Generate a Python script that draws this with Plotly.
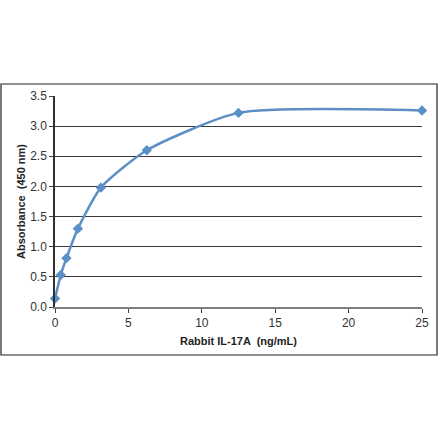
import plotly.graph_objects as go

# Rabbit IL-17A standard curve
conc = [0, 0.39, 0.78, 1.56, 3.125, 6.25, 12.5, 25]
absorbance = [0.14, 0.53, 0.81, 1.30, 1.98, 2.60, 3.22, 3.26]

x_ticks = [0, 5, 10, 15, 20, 25]
y_ticks = [0.0, 0.5, 1.0, 1.5, 2.0, 2.5, 3.0, 3.5]

W, H = 440, 441
blue = "#5b8fc6"

fig = go.Figure()
fig.add_trace(go.Scatter(
    x=conc, y=absorbance, mode="lines+markers",
    line=dict(color=blue, width=2.5, shape="spline", smoothing=0.6),
    marker=dict(symbol="diamond", size=8, color=blue),
    cliponaxis=False,
))

tick_font = dict(family="Liberation Sans, Arial, sans-serif", size=12, color="#333333")
title_font = dict(family="Liberation Sans, Arial, sans-serif", size=11, color="#222222")

fig.update_layout(
    width=W, height=H,
    margin=dict(l=55, r=18, t=96, b=134),
    paper_bgcolor="white", plot_bgcolor="white",
    showlegend=False,
    xaxis=dict(
        range=[0, 25], tickvals=x_ticks, ticktext=[str(v) for v in x_ticks],
        showgrid=False, zeroline=False,
        showline=True, linecolor="#808080", linewidth=1.5,
        ticks="outside", ticklen=4, tickcolor="#404040",
        tickfont=tick_font,
        title=dict(text="<b>Rabbit IL-17A  (ng/mL)</b>", font=title_font, standoff=8),
    ),
    yaxis=dict(
        range=[0, 3.5], tickvals=y_ticks, ticktext=[f"{v:.1f}" for v in y_ticks],
        showgrid=True, gridcolor="#3a3a3a", gridwidth=1.2, zeroline=False,
        showline=True, linecolor="#303030", linewidth=1.5,
        ticks="outside", ticklen=4, tickcolor="#404040",
        tickfont=tick_font,
        title=dict(text="<b>Absorbance  (450 nm)</b>", font=title_font, standoff=2),
    ),
    # outer frame around the whole chart
    shapes=[dict(
        type="rect", xref="paper", yref="paper",
        x0=(1 - 55) / 367, x1=(437 - 55) / 367,
        y0=(307 - 355) / 211, y1=(307 - 84) / 211,
        line=dict(color="#222222", width=1.2), layer="below",
    )],
)

fig.write_html("out.html", config={"displayModeBar": False},
               post_script="document.body.style.margin='0';")
